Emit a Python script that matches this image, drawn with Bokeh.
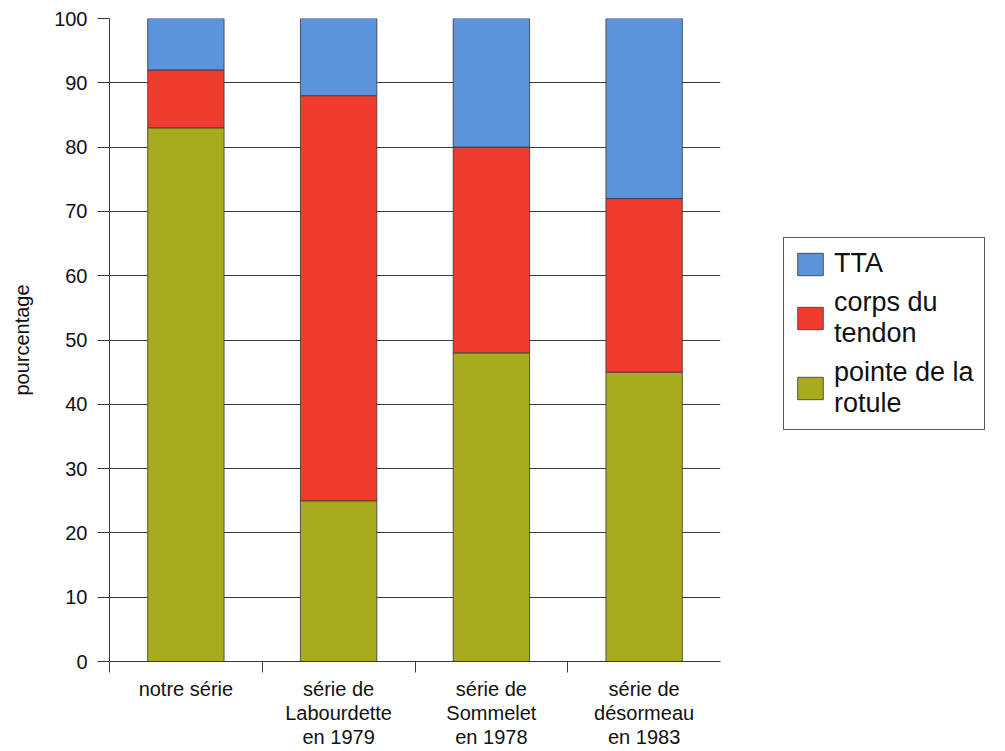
from bokeh.plotting import figure
from bokeh.models import (Range1d, FixedTicker, ColumnDataSource, Legend, LegendItem)
from bokeh.embed import file_html
from bokeh.resources import INLINE

categories = ["notre série", "série de\nLabourdette\nen 1979", "série de\nSommelet\nen 1978", "série de\ndésormeau\nen 1983"]
pointe = [83, 25, 48, 45]
corps = [9, 63, 32, 27]
tta = [8, 12, 20, 28]
series_names = ["TTA", "corps du\ntendon", "pointe de la\nrotule"]
colors = {"tta": "#5b93dc", "corps": "#f03c2c", "pointe": "#a9ab1e"}
y_ticks = list(range(0, 101, 10))

xs = [i + 0.5 for i in range(len(categories))]
b1 = [0] * len(categories)
t1 = [b + v for b, v in zip(b1, pointe)]
t2 = [b + v for b, v in zip(t1, corps)]
t3 = [b + v for b, v in zip(t2, tta)]

src = ColumnDataSource(dict(x=xs, b1=b1, t1=t1, t2=t2, t3=t3))

p = figure(frame_width=611, frame_height=643, output_backend="svg", toolbar_location=None,
           x_range=Range1d(0, len(categories)), y_range=Range1d(0, 100),
           min_border_left=109, min_border_right=0, min_border_top=18,
           min_border_bottom=85)
p.outline_line_color = None
p.background_fill_color = "white"
p.border_fill_color = "white"

line_col = "#3a3a3a"
r_pointe = p.vbar(x="x", bottom="b1", top="t1", width=0.5, source=src,
                  fill_color=colors["pointe"], line_color="#333333", line_width=0.8)
r_corps = p.vbar(x="x", bottom="t1", top="t2", width=0.5, source=src,
                 fill_color=colors["corps"], line_color="#333333", line_width=0.8)
r_tta = p.vbar(x="x", bottom="t2", top="t3", width=0.5, source=src,
               fill_color=colors["tta"], line_color="#333333", line_width=0.8)

# Y axis
p.yaxis.ticker = FixedTicker(ticks=y_ticks)
p.yaxis.major_tick_out = 12
p.yaxis.major_tick_in = 0
p.yaxis.minor_tick_line_color = None
p.yaxis.axis_line_color = line_col
p.yaxis.major_tick_line_color = line_col
p.yaxis.major_label_text_font = "Liberation Sans"
p.yaxis.major_label_text_font_size = "20px"
p.yaxis.major_label_text_color = "#111111"
p.yaxis.major_label_standoff = 10
p.yaxis.axis_label = "pourcentage"
p.yaxis.axis_label_text_font = "Liberation Sans"
p.yaxis.axis_label_text_font_style = "normal"
p.yaxis.axis_label_text_font_size = "20px"
p.yaxis.axis_label_text_color = "#111111"
p.yaxis.axis_label_standoff = 18

# X axis: labels at centers, tick marks at boundaries (minor ticks)
p.xaxis.ticker = FixedTicker(ticks=xs, minor_ticks=list(range(len(categories))))
p.xaxis.major_label_overrides = {x: c for x, c in zip(xs, categories)}
p.xaxis.major_tick_line_color = None
p.xaxis.major_tick_out = 11
p.xaxis.major_tick_in = 0
p.xaxis.minor_tick_line_color = line_col
p.xaxis.minor_tick_out = 11
p.xaxis.minor_tick_in = 0
p.xaxis.axis_line_color = line_col
p.xaxis.major_label_text_font = "Liberation Sans"
p.xaxis.major_label_text_font_size = "20px"
p.xaxis.major_label_text_line_height = 1.1
p.xaxis.major_label_text_color = "#111111"
p.xaxis.major_label_standoff = 5

p.xgrid.grid_line_color = None
p.ygrid.ticker = FixedTicker(ticks=y_ticks)
p.ygrid.grid_line_color = line_col
p.ygrid.grid_line_width = 1
p.ygrid.grid_line_alpha = 1.0
p.ygrid.level = "underlay"

legend = Legend(items=[
    LegendItem(label=series_names[0], renderers=[r_tta]),
    LegendItem(label=series_names[1], renderers=[r_corps]),
    LegendItem(label=series_names[2], renderers=[r_pointe]),
], location=(63, 231))
legend.label_text_font = "Liberation Sans"
legend.label_text_font_size = "27px"
legend.label_text_line_height = 1.1
legend.label_text_color = "#111111"
legend.glyph_width = 32
legend.glyph_height = 28
legend.label_standoff = 8
legend.padding = 10
legend.spacing = 8
legend.border_line_color = "#555555"
legend.border_line_alpha = 1.0
legend.border_line_width = 1.5
legend.background_fill_color = "white"
legend.background_fill_alpha = 1.0
p.add_layout(legend, "right")

open("out.html", "w").write(file_html(p, INLINE))
